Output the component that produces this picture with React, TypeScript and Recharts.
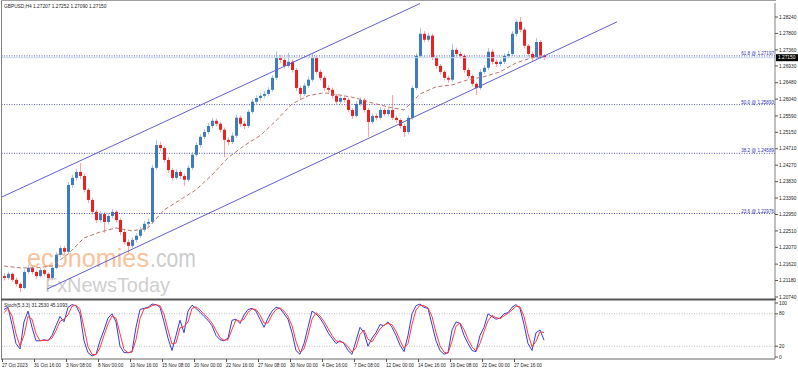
import React from 'react';
import { ComposedChart, Bar, Line, XAxis, YAxis, ReferenceLine } from 'recharts';

const FONT = '"Liberation Sans", Arial, sans-serif';

// GBPUSD H4, two bars merged per candle (27 Oct – 29 Dec 2023)
const firstOpen = 1.2130;
const closes = [
  1.2125, 1.2136, 1.2120, 1.2109, 1.2098, 1.2141, 1.2152, 1.2141, 1.2130, 1.2146,
  1.2136, 1.2125, 1.2152, 1.2187, 1.2205, 1.2195, 1.2374, 1.2393, 1.2409, 1.2398,
  1.2361, 1.2334, 1.2302, 1.2280, 1.2296, 1.2275, 1.2291, 1.2302, 1.2280, 1.2248,
  1.2221, 1.2211, 1.2227, 1.2238, 1.2254, 1.2270, 1.2275, 1.2420, 1.2481, 1.2473,
  1.2441, 1.2414, 1.2393, 1.2409, 1.2398, 1.2388, 1.2420, 1.2455, 1.2481, 1.2503,
  1.2516, 1.2532, 1.2546, 1.2538, 1.2522, 1.2495, 1.2489, 1.2506, 1.2554, 1.2538,
  1.2532, 1.2570, 1.2597, 1.2607, 1.2613, 1.2618, 1.2629, 1.2661, 1.2715, 1.2709,
  1.2693, 1.2704, 1.2682, 1.2634, 1.2618, 1.2640, 1.2656, 1.2715, 1.2677, 1.2661,
  1.2634, 1.2629, 1.2613, 1.2597, 1.2607, 1.2602, 1.2575, 1.2559, 1.2591, 1.2602,
  1.2575, 1.2543, 1.2559, 1.2554, 1.2575, 1.2564, 1.2575, 1.2554, 1.2548, 1.2532,
  1.2516, 1.2554, 1.2634, 1.2720, 1.2779, 1.2763, 1.2774, 1.2715, 1.2693, 1.2677,
  1.2661, 1.2656, 1.2736, 1.2725, 1.2720, 1.2682, 1.2666, 1.2645, 1.2634, 1.2677,
  1.2688, 1.2731, 1.2704, 1.2698, 1.2704, 1.2720, 1.2725, 1.2779, 1.2811, 1.2790,
  1.2747, 1.2725, 1.2715, 1.2757, 1.2721, 1.27150,
];
const highs = [
  1.2138, 1.2142, 1.2140, 1.2126, 1.2114, 1.2148, 1.2160, 1.2158, 1.2146, 1.2152,
  1.2150, 1.2140, 1.2158, 1.2194, 1.2212, 1.2210, 1.2382, 1.2401, 1.2418, 1.2433,
  1.2404, 1.2366, 1.2340, 1.2308, 1.2304, 1.2302, 1.2298, 1.2310, 1.2307, 1.2285,
  1.2254, 1.2228, 1.2234, 1.2245, 1.2262, 1.2278, 1.2284, 1.2428, 1.2495, 1.2490,
  1.2478, 1.2448, 1.2420, 1.2416, 1.2414, 1.2404, 1.2427, 1.2462, 1.2488, 1.2510,
  1.2524, 1.2540, 1.2554, 1.2552, 1.2543, 1.2528, 1.2502, 1.2514, 1.2562, 1.2560,
  1.2545, 1.2577, 1.2604, 1.2614, 1.2620, 1.2626, 1.2636, 1.2668, 1.2731, 1.2722,
  1.2714, 1.2728, 1.2710, 1.2688, 1.2640, 1.2647, 1.2664, 1.2728, 1.2720, 1.2684,
  1.2666, 1.2641, 1.2635, 1.2618, 1.2614, 1.2612, 1.2608, 1.2580, 1.2598, 1.2609,
  1.2607, 1.2580, 1.2566, 1.2565, 1.2582, 1.2580, 1.2582, 1.2615, 1.2560, 1.2553,
  1.2538, 1.2561, 1.2641, 1.2727, 1.2795, 1.2786, 1.2782, 1.2779, 1.2720, 1.2698,
  1.2682, 1.2667, 1.2752, 1.2742, 1.2731, 1.2725, 1.2688, 1.2671, 1.2650, 1.2684,
  1.2695, 1.2741, 1.2737, 1.2710, 1.2711, 1.2727, 1.2733, 1.2786, 1.2818, 1.2824,
  1.2796, 1.2752, 1.2731, 1.2768, 1.2762, 1.27252,
];
const lows = [
  1.2118, 1.2120, 1.2114, 1.2102, 1.2087, 1.2094, 1.2136, 1.2135, 1.2122, 1.2126,
  1.2130, 1.2116, 1.2120, 1.2148, 1.2180, 1.2188, 1.2190, 1.2366, 1.2386, 1.2390,
  1.2354, 1.2326, 1.2295, 1.2272, 1.2274, 1.2246, 1.2268, 1.2285, 1.2274, 1.2240,
  1.2214, 1.2192, 1.2205, 1.2220, 1.2232, 1.2248, 1.2262, 1.2270, 1.2414, 1.2466,
  1.2434, 1.2406, 1.2386, 1.2388, 1.2390, 1.2372, 1.2382, 1.2414, 1.2449, 1.2475,
  1.2497, 1.2510, 1.2526, 1.2531, 1.2515, 1.2449, 1.2480, 1.2484, 1.2500, 1.2530,
  1.2524, 1.2527, 1.2564, 1.2590, 1.2600, 1.2606, 1.2612, 1.2624, 1.2655, 1.2700,
  1.2686, 1.2688, 1.2675, 1.2626, 1.2602, 1.2612, 1.2634, 1.2650, 1.2670, 1.2654,
  1.2626, 1.2621, 1.2606, 1.2590, 1.2591, 1.2595, 1.2568, 1.2551, 1.2554, 1.2585,
  1.2568, 1.2503, 1.2537, 1.2547, 1.2549, 1.2558, 1.2558, 1.2548, 1.2540, 1.2525,
  1.2503, 1.2510, 1.2548, 1.2628, 1.2714, 1.2756, 1.2757, 1.2708, 1.2686, 1.2670,
  1.2654, 1.2648, 1.2650, 1.2718, 1.2713, 1.2675, 1.2659, 1.2638, 1.2615, 1.2628,
  1.2671, 1.2682, 1.2697, 1.2690, 1.2692, 1.2698, 1.2714, 1.2719, 1.2772, 1.2783,
  1.2740, 1.2718, 1.2706, 1.2709, 1.2712, 1.27090,
];

const maAt = [0, 4, 8, 12, 16, 20, 24, 28, 32, 36, 40, 44, 48, 52, 56, 60, 64, 68,
  72, 76, 80, 84, 88, 92, 96, 100, 104, 108, 112, 116, 120, 124, 128, 132, 135];
const maValues = [1.2157, 1.2152, 1.2152, 1.2157, 1.2189, 1.2232, 1.2248, 1.2259, 1.2251,
  1.2259, 1.2307, 1.2334, 1.2361, 1.2401, 1.2447, 1.2479, 1.2506, 1.2546, 1.2591, 1.2613,
  1.2621, 1.2615, 1.2607, 1.2594, 1.2583, 1.2575, 1.2618, 1.2637, 1.2642, 1.2656, 1.2664,
  1.2677, 1.2701, 1.2715, 1.2717];

// Stoch(5,3,3)
const stochK = [
  88, 92, 60, 25, 15, 65, 85, 55, 30, 30,
  32, 30, 40, 58, 75, 65, 92, 97, 95, 80,
  30, 8, 2, 5, 30, 50, 72, 80, 65, 20,
  8, 8, 10, 55, 88, 90, 92, 98, 97, 92,
  65, 35, 12, 40, 68, 45, 85, 96, 90, 83,
  75, 68, 58, 40, 32, 30, 35, 68, 70, 62,
  78, 88, 90, 85, 70, 55, 72, 85, 92, 90,
  80, 70, 45, 12, 5, 25, 55, 85, 80, 72,
  60, 45, 35, 25, 30, 25, 12, 5, 30, 55,
  45, 20, 35, 45, 60, 58, 65, 55, 40, 22,
  10, 40, 80, 95, 98, 92, 90, 60, 30, 12,
  5, 8, 50, 65, 62, 40, 25, 12, 10, 40,
  55, 80, 75, 70, 72, 80, 82, 92, 97, 90,
  60, 25, 12, 45, 50, 31.253,
];
const stochD = [
  82, 90, 76, 43, 20, 40, 75, 70, 43, 30,
  31, 31, 35, 49, 66, 70, 78, 94, 96, 88,
  55, 19, 5, 4, 17, 40, 61, 76, 72, 43,
  14, 8, 9, 32, 71, 89, 91, 95, 97, 95,
  79, 50, 24, 26, 54, 56, 65, 90, 93, 87,
  79, 72, 63, 49, 36, 31, 32, 51, 69, 66,
  70, 83, 89, 88, 78, 63, 63, 78, 88, 91,
  85, 75, 58, 29, 9, 15, 40, 70, 82, 76,
  66, 53, 40, 30, 28, 27, 19, 9, 17, 42,
  50, 33, 28, 40, 52, 59, 62, 60, 48, 31,
  16, 25, 60, 87, 96, 95, 91, 75, 45, 21,
  9, 7, 29, 57, 63, 51, 33, 19, 11, 25,
  47, 67, 77, 73, 71, 76, 81, 87, 94, 93,
  75, 43, 19, 29, 47, 45.1093,
];

const priceTicks = ['1.28240', '1.27800', '1.27360', '1.26930', '1.26480', '1.26040',
  '1.25590', '1.25150', '1.24710', '1.24270', '1.23830', '1.23390', '1.22950', '1.22510',
  '1.22070', '1.21620', '1.21180', '1.20740'];
const fibPct = ['61.8', '50.0', '38.2', '23.6'];
const fibPrice = [1.27197, 1.25893, 1.24589, 1.22976];
const upperChannel = [{ x: -0.5, y: 1.2342 }, { x: 104, y: 1.2860 }];
const lowerChannel = [{ x: 10.75, y: 1.2095 }, { x: 153.25, y: 1.2811 }];
const lastPrice = 1.2715;

const dateTickAt = [0, 8, 16, 24, 32, 40, 48, 56, 64, 72, 80, 88, 96, 104, 112, 120, 128];
const dateLabels = ['27 Oct 2023', '31 Oct 16:00', '3 Nov 08:00', '8 Nov 00:00', '10 Nov 16:00',
  '15 Nov 08:00', '20 Nov 00:00', '22 Nov 16:00', '27 Nov 08:00', '30 Nov 00:00', '4 Dec 16:00',
  '7 Dec 08:00', '12 Dec 00:00', '14 Dec 16:00', '19 Dec 08:00', '22 Dec 00:00', '27 Dec 16:00'];

const X_DOMAIN = [-0.5, 192.75];

const candles: any[] = closes.map((c, i) => ({
  i, c,
  o: i === 0 ? firstOpen : closes[i - 1],
  h: highs[i], l: lows[i],
  range: [lows[i], highs[i]],
}));
maAt.forEach((idx, k) => { candles[idx].ma = maValues[k]; });

const stochRows = stochK.map((k, i) => ({ i, k, d: stochD[i] }));

function Candle(props: any) {
  const { x, y, width, height, payload } = props;
  if (!payload || height == null) return null;
  const { o, h, l, c } = payload;
  const k = height / (h - l);
  const cx = Math.round(x + width / 2) + 0.5;
  const yo = y + (h - o) * k;
  const yc = y + (h - c) * k;
  const up = c >= o;
  return (
    <g>
      <line x1={cx} x2={cx} y1={y} y2={y + height} stroke={up ? '#a9c9e8' : '#ffa3a3'} />
      <rect x={cx - 1.5} y={Math.min(yo, yc)} width={3} height={Math.max(1, Math.abs(yc - yo))}
        fill={up ? '#3d7dbd' : '#f21d1d'} />
    </g>
  );
}

function PriceTick({ x, y, payload }: any) {
  return (
    <text x={x} y={y + 1.7} fontSize={4.8} fontFamily={FONT} fill="#222">
      {payload.value.toFixed(5)}
    </text>
  );
}

function StochTick({ x, y, payload }: any) {
  return (
    <text x={x} y={y + 1.7} fontSize={4.8} fontFamily={FONT} fill="#222">{payload.value}</text>
  );
}

function DateTick({ x, y, payload }: any) {
  const idx = dateTickAt.indexOf(payload.value);
  return (
    <g>
      <line x1={x - 1.5} x2={x - 1.5} y1={y} y2={y + 3} stroke="#555" />
      <text x={x - 2} y={y + 7.5} fontSize={4.7} fontFamily={FONT} fill="#222">{dateLabels[idx]}</text>
    </g>
  );
}

const fibLabel = (n: number) => ({ viewBox }: any) => (
  <text x={viewBox.x + viewBox.width - 1} y={viewBox.y - 1} textAnchor="end"
    fontSize={4.6} fontFamily={FONT} fill="#3434b0">
    {fibPct[n]} @ {fibPrice[n].toFixed(5)}
  </text>
);

function PriceTag({ viewBox }: any) {
  const x0 = viewBox.x + viewBox.width + 1;
  return (
    <g>
      <rect x={x0} y={viewBox.y - 3.5} width={22} height={7} fill="#000" />
      <text x={x0 + 2} y={viewBox.y + 1.8} fontSize={4.8} fontFamily={FONT} fill="#fff">
        {lastPrice.toFixed(5)}
      </text>
    </g>
  );
}

export default function App() {
  return (
    <div style={{ position: 'absolute', left: 0, top: 0, width: 798, height: 371, background: '#fff' }}>
      {/* watermark sits under the candles */}
      <svg width={798} height={371} style={{ position: 'absolute', left: 0, top: 0 }}>
        <text x={27} y={267} fontSize={25.5} fontFamily={FONT} fill="#f8c29c"
          textLength={122} lengthAdjust="spacingAndGlyphs">economies</text>
        <text x={150} y={267} fontSize={25.5} fontFamily={FONT} fill="#cdcdcd"
          textLength={46} lengthAdjust="spacingAndGlyphs">.com</text>
        <text x={45} y={291.5} fontSize={21} fontFamily={FONT} fill="#cfcfcf"
          textLength={125} lengthAdjust="spacingAndGlyphs">FxNewsToday</text>
      </svg>

      <div style={{ position: 'absolute', left: 0, top: 0 }}>
        <ComposedChart width={798} height={300} data={candles}
          margin={{ top: 3, right: 0, left: 2, bottom: 1 }}>
          <XAxis type="number" dataKey="i" domain={X_DOMAIN} allowDataOverflow hide />
          <YAxis orientation="right" width={23} domain={[1.20686, 1.28615]} allowDataOverflow
            ticks={priceTicks.map(Number)} interval={0} tick={<PriceTick />}
            tickSize={3} tickMargin={1} axisLine={{ stroke: '#808080' }} tickLine={{ stroke: '#555' }} />
          {fibPrice.map((p, n) => (
            <ReferenceLine key={p} y={p} stroke="#5555c0" strokeDasharray="1 1.5"
              label={fibLabel(n)} />
          ))}
          <ReferenceLine y={lastPrice} stroke="#c2dbef" label={PriceTag} />
          <Bar dataKey="range" shape={<Candle />} barSize={3} isAnimationActive={false} />
          <Line dataKey="ma" connectNulls dot={false} stroke="#b9776a" strokeWidth={1}
            strokeDasharray="4 2.5" isAnimationActive={false} />
          <ReferenceLine segment={upperChannel} stroke="#5f5fd0" strokeWidth={1} ifOverflow="hidden" />
          <ReferenceLine segment={lowerChannel} stroke="#5f5fd0" strokeWidth={1} ifOverflow="hidden" />
        </ComposedChart>
      </div>

      <div style={{ position: 'absolute', left: 0, top: 300 }}>
        <ComposedChart width={798} height={71} data={stochRows}
          margin={{ top: 1, right: 0, left: 2, bottom: 0 }}>
          <XAxis type="number" dataKey="i" domain={X_DOMAIN} allowDataOverflow
            ticks={dateTickAt} interval={0} tick={<DateTick />} height={12}
            tickSize={0} tickMargin={0} tickLine={false} axisLine={{ stroke: '#666' }} />
          <YAxis orientation="right" width={23} domain={[-3.7, 103.7]} allowDataOverflow
            ticks={[0, 20, 80, 100]} interval={0} tick={<StochTick />}
            tickSize={3} tickMargin={1} axisLine={{ stroke: '#808080' }} tickLine={{ stroke: '#555' }} />
          <ReferenceLine y={80} stroke="#bdbdbd" strokeDasharray="1 1.5" />
          <ReferenceLine y={20} stroke="#bdbdbd" strokeDasharray="1 1.5" />
          <Line dataKey="k" dot={false} stroke="#3a3ad6" strokeWidth={1} isAnimationActive={false} />
          <Line dataKey="d" dot={false} stroke="#ff3c3c" strokeWidth={1} isAnimationActive={false} />
        </ComposedChart>
      </div>

      {/* window frame and headers */}
      <svg width={798} height={371} style={{ position: 'absolute', left: 0, top: 0, pointerEvents: 'none' }}>
        <line x1={1.5} x2={1.5} y1={0} y2={360} stroke="#808080" />
        <line x1={1} x2={776} y1={0.5} y2={0.5} stroke="#a0a0a0" />
        <line x1={1} x2={776} y1={299.5} y2={299.5} stroke="#555" strokeWidth={2} />
        <text x={4} y={7.5} fontSize={4.8} fontFamily={FONT} fill="#222">
          GBPUSD,H4  1.27207 1.27252 1.27090 1.27150
        </text>
        <text x={4} y={307} fontSize={4.8} fontFamily={FONT} fill="#222">
          Stoch(5,3,3) 31.2530 45.1093
        </text>
      </svg>
    </div>
  );
}
